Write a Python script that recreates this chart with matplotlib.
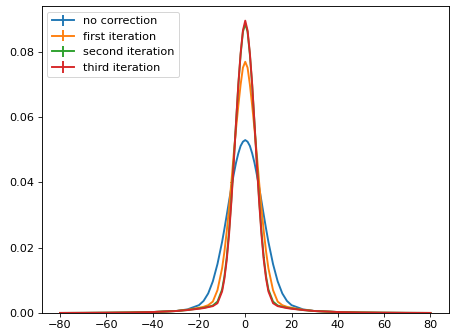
import matplotlib
matplotlib.use("Agg")
import matplotlib.pyplot as plt

# bin centres
x = [-80, -70, -60, -50, -40, -30, -25, -20, -18, -16, -14, -12,
     -10, -9, -8, -7, -6, -5, -4, -3, -2, -1, 0, 1, 2, 3, 4, 5, 6, 7, 8, 9, 10,
     12, 14, 16, 18, 20, 25, 30, 40, 50, 60, 70, 80]

no_correction = [0.00002, 0.00004, 0.00008, 0.00015, 0.0003, 0.0006, 0.0011, 0.0024, 0.0037, 0.0060, 0.0097, 0.0150,
                 0.0218, 0.0258, 0.0300, 0.0343, 0.0385, 0.0424, 0.0460, 0.0489, 0.0512, 0.0525, 0.0530,
                 0.0525, 0.0512, 0.0489, 0.0460, 0.0424, 0.0385, 0.0343, 0.0300, 0.0258, 0.0218,
                 0.0150, 0.0097, 0.0060, 0.0037, 0.0024, 0.0011, 0.0006, 0.0003, 0.00015, 0.00008, 0.00004, 0.00002]

first_iter = [0.00002, 0.00004, 0.00008, 0.00015, 0.0003, 0.0006, 0.0010, 0.0016, 0.0019, 0.0024, 0.0035, 0.0070,
              0.0137, 0.0188, 0.0250, 0.0322, 0.0400, 0.0485, 0.0563, 0.0635, 0.0700, 0.0752, 0.0770,
              0.0752, 0.0700, 0.0635, 0.0563, 0.0485, 0.0400, 0.0322, 0.0250, 0.0188, 0.0137,
              0.0070, 0.0035, 0.0024, 0.0019, 0.0016, 0.0010, 0.0006, 0.0003, 0.00015, 0.00008, 0.00004, 0.00002]

second_iter = [0.00002, 0.00004, 0.00008, 0.00015, 0.0003, 0.0006, 0.0009, 0.0014, 0.0016, 0.0019, 0.0023, 0.0035,
               0.0072, 0.0112, 0.0170, 0.0250, 0.0348, 0.0462, 0.0582, 0.0697, 0.0792, 0.0862, 0.0886,
               0.0862, 0.0792, 0.0697, 0.0582, 0.0462, 0.0348, 0.0250, 0.0170, 0.0112, 0.0072,
               0.0035, 0.0023, 0.0019, 0.0016, 0.0014, 0.0009, 0.0006, 0.0003, 0.00015, 0.00008, 0.00004, 0.00002]

third_iter = [0.00002, 0.00004, 0.00008, 0.00015, 0.0003, 0.0006, 0.0009, 0.0013, 0.0015, 0.0018, 0.0021, 0.0030,
              0.0066, 0.0105, 0.0162, 0.0240, 0.0340, 0.0456, 0.0580, 0.0700, 0.0796, 0.0866, 0.0896,
              0.0866, 0.0796, 0.0700, 0.0580, 0.0456, 0.0340, 0.0240, 0.0162, 0.0105, 0.0066,
              0.0030, 0.0021, 0.0018, 0.0015, 0.0013, 0.0009, 0.0006, 0.0003, 0.00015, 0.00008, 0.00004, 0.00002]

series = [
    ("no correction", no_correction),
    ("first iteration", first_iter),
    ("second iteration", second_iter),
    ("third iteration", third_iter),
]
yerr = 0.00001

plt.rcParams.update({
    "font.size": 11.2,
    "xtick.major.size": 3.9,
    "ytick.major.size": 3.9,
    "axes.linewidth": 0.9,
})

fig = plt.figure(figsize=(450 / 72, 332 / 72), dpi=72)
ax = fig.add_axes([41.5 / 450, 1 - 313 / 332, 407.5 / 450, 307 / 332])

for label, y in series:
    ax.errorbar(x, y, yerr=yerr, label=label, linewidth=1.9)

ax.set_ylim(bottom=0)
ax.set_xticks([-80, -60, -40, -20, 0, 20, 40, 60, 80])
ax.legend(loc="upper left")

fig.savefig("out.png", dpi=72)
